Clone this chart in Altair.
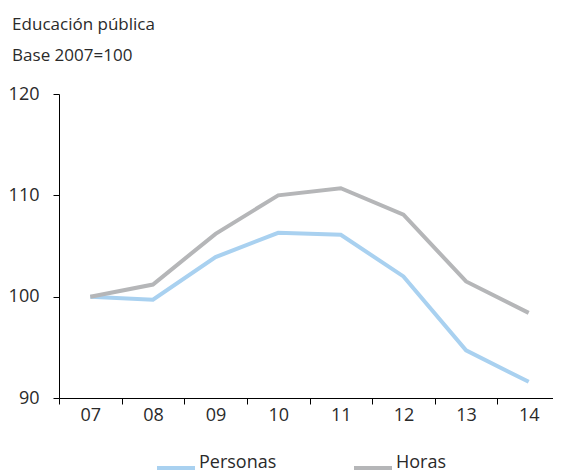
import altair as alt
import pandas as pd

years = ["07", "08", "09", "10", "11", "12", "13", "14"]
personas = [100.0, 99.7, 103.9, 106.3, 106.1, 102.0, 94.7, 91.6]
horas = [100.0, 101.2, 106.2, 110.0, 110.7, 108.1, 101.5, 98.4]
series = ["Personas", "Horas"]
colors = ["#a9d1f0", "#b5b6b8"]
y_ticks = [90, 100, 110, 120]

df = pd.DataFrame({
    "year": years * 2,
    "value": personas + horas,
    "serie": [series[0]] * len(years) + [series[1]] * len(years),
})

FONT = "Open Sans"
TXT = "#2a2a2a"

chart = alt.Chart(df).mark_line(strokeWidth=4).encode(
    x=alt.X(
        "year:N",
        bandPosition=0.5,
        scale=alt.Scale(type="band", paddingInner=0, paddingOuter=0),
        axis=alt.Axis(
            title=None, labelAngle=0, tickBand="extent", domainColor="#000",
            tickColor="#000", tickSize=6, labelFontSize=18, labelPadding=2,
            labelColor=TXT, labelFont=FONT,
        ),
    ),
    y=alt.Y(
        "value:Q",
        scale=alt.Scale(domain=[90, 120], nice=False, zero=False),
        axis=alt.Axis(
            title=None, values=y_ticks, grid=False, domainColor="#000",
            tickColor="#000", tickSize=6, labelFontSize=18, labelPadding=14,
            labelColor=TXT, labelFont=FONT,
        ),
    ),
    color=alt.Color(
        "serie:N",
        sort=series,
        scale=alt.Scale(domain=series, range=colors),
        legend=alt.Legend(
            orient="none", legendX=96, legendY=353, title=None,
            direction="horizontal",
            symbolType="stroke", symbolStrokeWidth=4, symbolSize=1444,
            labelFontSize=18, labelFont=FONT, labelColor=TXT,
            labelBaseline="alphabetic",
            columnPadding=69, labelOffset=2,
        ),
    ),
).properties(
    width=501,
    height=304,
    padding={"left": 0, "top": 8, "right": -8, "bottom": 0},
    title=alt.TitleParams(
        text="Educación pública",
        subtitle="Base 2007=100",
        anchor="start",
        frame="bounds",
        dx=4,
        fontSize=17,
        subtitleFontSize=17,
        font=FONT,
        subtitleFont=FONT,
        fontWeight="normal",
        color=TXT,
        subtitleColor=TXT,
        subtitlePadding=14,
        offset=20,
    ),
).configure_view(strokeWidth=0, stroke="transparent")

chart.save("out.html", embed_options={"renderer": "svg", "actions": False})
